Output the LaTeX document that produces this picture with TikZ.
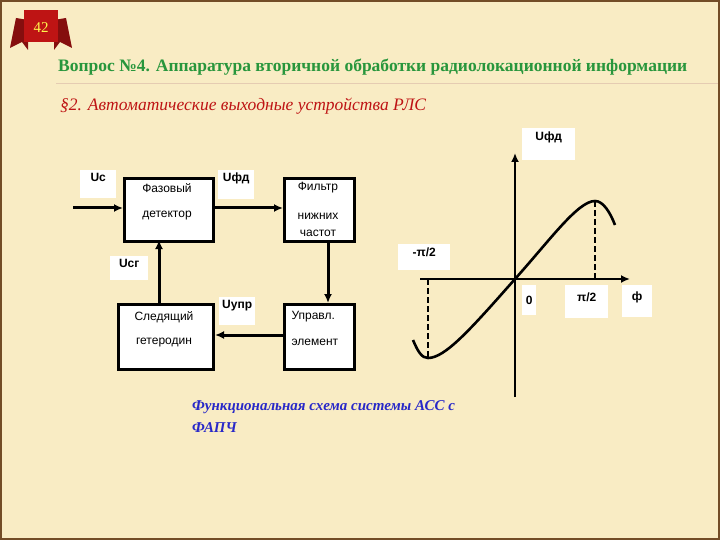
\documentclass[tikz,border=0pt]{standalone}
\usepackage{fontspec}
\setmainfont{Liberation Serif}
\newfontfamily\sansf{Liberation Sans}
\usetikzlibrary{arrows.meta}
\definecolor{bg}{RGB}{249,236,196}
\definecolor{ttl}{RGB}{40,150,60}
\definecolor{sub}{RGB}{190,20,20}
\definecolor{cap}{RGB}{40,40,200}
\definecolor{badge}{RGB}{190,20,20}
\tikzset{
 blk/.style={draw,line width=3pt,fill=white},
 lbl/.style={fill=white,font=\sansf\bfseries\fontsize{12}{14}\selectfont,inner sep=3pt},
 btxt/.style={font=\sansf\fontsize{12}{14}\selectfont,anchor=center},
 con/.style={line width=3pt,-{Latex[length=9pt,width=8pt]}},
 ax/.style={line width=2.6pt,-{Latex[length=9pt,width=8pt]}},
 dsh/.style={line width=2.6pt,dash pattern=on 6pt off 3pt}
}
\begin{document}
\begin{tikzpicture}[x=1pt,y=-1pt]
\useasboundingbox (0,0) rectangle (720,540);
\fill[bg] (0,0) rectangle (720,540);
\draw[line width=2pt,brown!60!black] (1,1) rectangle (719,539);
% badge
\fill[badge!70!black] (16,18) -- (10,48) -- (22,42) -- (28,50) -- (28,20) -- cycle;
\fill[badge!70!black] (66,18) -- (72,48) -- (60,42) -- (54,50) -- (54,20) -- cycle;
\fill[badge] (24,10) rectangle (58,42);
\node[font=\fontsize{15}{17}\selectfont,text=yellow!70] (num) at (41,28) {42};
% title
\node[anchor=west,font=\bfseries\fontsize{17.5}{20}\selectfont,text=ttl,inner sep=0] (title) at (58,67) {Вопрос №4. Аппаратура вторичной обработки радиолокационной информации};
\draw[brown!40,line width=0.8pt] (56,83) -- (718,83);
\node[anchor=west,font=\itshape\fontsize{17.5}{20}\selectfont,text=sub,inner sep=0] (subt) at (60,106) {§2. Автоматические выходные устройства РЛС};
% blocks
\node[blk,minimum width=89,minimum height=63,anchor=north west] (pd) at (123,177) {};
\node[btxt] at (167,188) {Фазовый};
\node[btxt] at (167,216) {детектор};
\node[blk,minimum width=70,minimum height=63,anchor=north west] (fn) at (283,177) {};
\node[btxt] at (318,188) {Фильтр};
\node[btxt] at (318,216) {нижних};
\node[btxt] at (318,233) {частот};
\node[blk,minimum width=95,minimum height=65,anchor=north west] (sg) at (117,303) {};
\node[btxt] at (164,317) {Следящий};
\node[btxt] at (164,343) {гетеродин};
\node[blk,minimum width=70,minimum height=65,anchor=north west] (ue) at (283,303) {};
\node[btxt,anchor=west] at (288,317) {Управл.};
\node[btxt,anchor=west] at (288,342) {элемент};
% connectors
\coordinate (in) at (73,208);
\draw[con] (in) -- (in -| pd.west);
\draw[con] (pd.east |- 0,208) -- (fn.west |- 0,208);
\draw[con] (328,240) -- (328,303);
\draw[con] (ue.west |- 0,335) -- (sg.east |- 0,335);
\draw[con] (159,303) -- (159,240);
% labels
\node[lbl,minimum width=36,minimum height=22,anchor=north west,text depth=14pt] (uc) at (80,170) {Uc};
\node[lbl,minimum width=36,minimum height=26,anchor=north west,text depth=14pt] (ufd) at (218,170) {Uфд};
\node[lbl,minimum width=38,minimum height=24,anchor=north west,text depth=10pt] (ucg) at (110,256) {Ucг};
\node[lbl,minimum width=32,minimum height=26,anchor=north west,text depth=14pt] (uup) at (219,297) {Uупр};
% graph
\draw[ax] (515,397) -- (515,153);
\draw[ax] (420,279) -- (630,279);
\draw[line width=2.6pt] (413,340) .. controls (418,352) and (422,358) .. (428,358)
 .. controls (445,358) and (470,330) .. (515,279)
 .. controls (550,240) and (578,201) .. (595,201)
 .. controls (603,201) and (610,212) .. (615,225);
\draw[dsh] (428,279) -- (428,358);
\draw[dsh] (595,201) -- (595,279);
\node[lbl,minimum width=53,minimum height=32,anchor=north west,text depth=16pt] (ay) at (522,128) {Uфд};
\node[lbl,minimum width=52,minimum height=26,anchor=north west,text depth=10pt] (mp) at (398,244) {-π/2};
\node[lbl,minimum width=14,minimum height=30,anchor=north west] (z) at (522,285) {0};
\node[lbl,minimum width=43,minimum height=33,anchor=north west,text depth=10pt] (pp) at (565,285) {π/2};
\node[lbl,minimum width=30,minimum height=32,anchor=north west,text depth=10pt] (ph) at (622,285) {ф};
% caption
\node[anchor=north west,align=left,font=\bfseries\itshape\fontsize{15}{22}\selectfont,text=cap,inner sep=0] (cp) at (192,400) {Функциональная схема системы АСС с\\ФАПЧ};
\end{tikzpicture}
\end{document}
